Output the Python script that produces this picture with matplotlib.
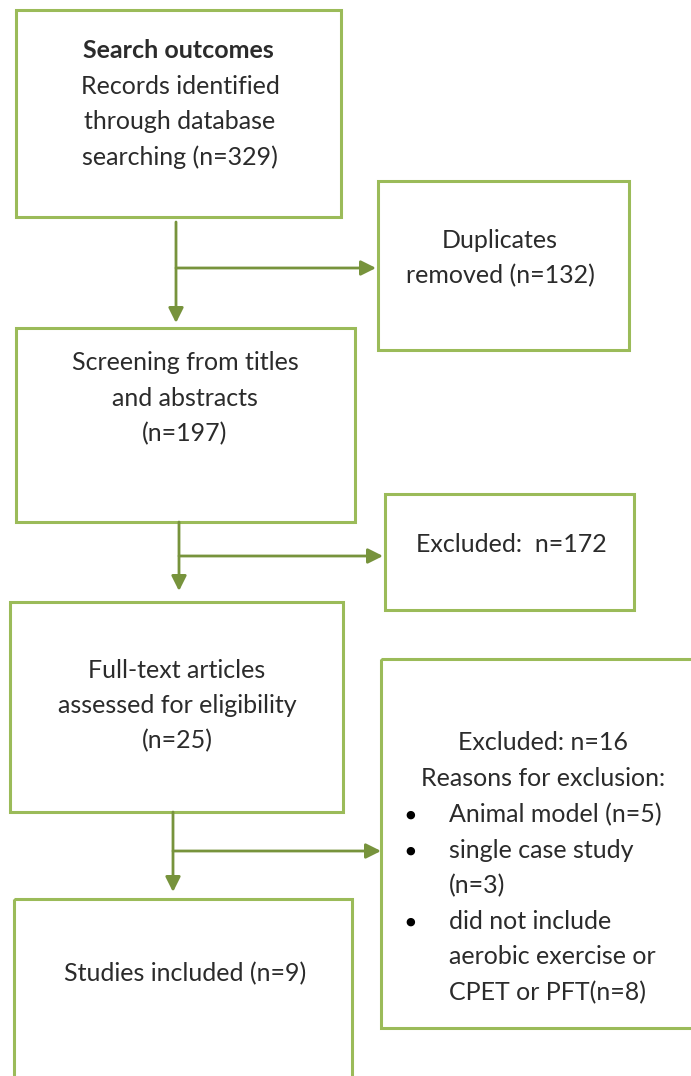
import matplotlib
matplotlib.use("Agg")
from matplotlib import pyplot as plt
from matplotlib.patches import Rectangle

# flow counts
n_found = 329
n_duplicates = 132
n_screened = 197
n_excluded_screen = 172
n_fulltext = 25
n_excluded_full = 16
n_included = 9
exclusion_reasons = [["Animal model (n=5)"],
                     ["single case study", "(n=3)"],
                     ["did not include", "aerobic exercise or", "CPET or PFT(n=8)"]]

box_edge = "#9bbb59"
arrow_col = "#77933c"
text_col = "#2b2b2b"
FONT = "Lato"
FS = 18
LINE = 35.5   # px between text lines


def box(ax, x0, y0, x1, y1):
    ax.add_patch(Rectangle((x0, y0), x1 - x0, y1 - y0, fill=False,
                           edgecolor=box_edge, lw=2.2))


def arrow(ax, start, end):
    ax.annotate("", xy=end, xytext=start,
                arrowprops=dict(arrowstyle="-|>,head_length=0.9,head_width=0.45",
                                color=arrow_col, lw=2, shrinkA=0, shrinkB=0))


def lines(ax, x, y0, rows, **kw):
    # one text per row so the spacing matches the original exactly
    for i, row in enumerate(rows):
        ax.text(x, y0 + i * LINE, row, va="center", color=text_col,
                fontsize=FS, family=FONT, **kw)


def main():
    fig = plt.figure(figsize=(6.91, 10.76), dpi=100)
    ax = fig.add_axes([0, 0, 1, 1])
    ax.set_xlim(0, 691)
    ax.set_ylim(1076, 0)
    ax.axis("off")

    # boxes
    box(ax, 16, 10, 341, 217)
    box(ax, 378, 181, 629, 350)
    box(ax, 16, 328, 355, 522)
    box(ax, 385, 494, 634, 610)
    box(ax, 10, 602, 343, 812)
    box(ax, 381, 659, 700, 1028)
    box(ax, 14, 899, 352, 1090)

    # arrows
    arrow(ax, (176, 222), (176, 323))
    arrow(ax, (176, 268), (376, 268))
    arrow(ax, (179, 522), (179, 591))
    arrow(ax, (179, 556), (383, 556))
    arrow(ax, (173, 812), (173, 892))
    arrow(ax, (173, 851), (381, 851))

    # texts
    ax.text(178, 50, "Search outcomes", fontweight="bold", ha="center", va="center",
            color=text_col, fontsize=FS, family=FONT)
    lines(ax, 180, 86, ["Records identified", "through database",
                        "searching (n=%d)" % n_found], ha="center")
    lines(ax, 500, 240, ["Duplicates", "removed (n=%d)" % n_duplicates], ha="center")
    lines(ax, 185, 363, ["Screening from titles", "and abstracts",
                         "(n=%d)" % n_screened], ha="center")
    lines(ax, 511, 544, ["Excluded:  n=%d" % n_excluded_screen], ha="center")
    lines(ax, 177, 670, ["Full-text articles", "assessed for eligibility",
                         "(n=%d)" % n_fulltext], ha="center")
    lines(ax, 543, 743, ["Excluded: n=%d" % n_excluded_full,
                         "Reasons for exclusion:"], ha="center")
    y = 815
    for reason in exclusion_reasons:
        ax.text(410, y, "\u25cf", ha="center", va="center", color="black",
                fontsize=8, family="DejaVu Sans")
        lines(ax, 449, y, reason, ha="left")
        y += LINE * len(reason)
    lines(ax, 185, 974, ["Studies included (n=%d)" % n_included], ha="center")

    fig.savefig("out.png", dpi=100)


if __name__ == '__main__':
    main()
